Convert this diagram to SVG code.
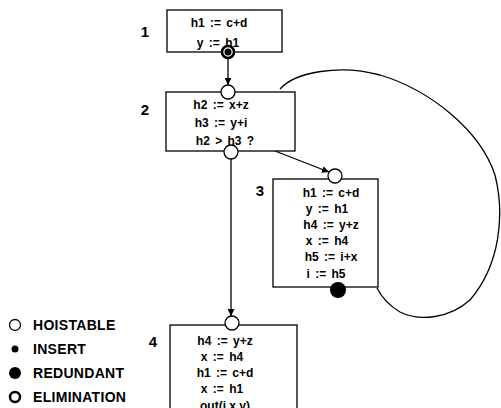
<svg xmlns="http://www.w3.org/2000/svg" width="501" height="408" viewBox="0 0 501 408">
<defs>
<marker id="arr" viewBox="0 0 10 10" refX="10" refY="5" markerWidth="7" markerHeight="7" orient="auto" markerUnits="userSpaceOnUse">
<path d="M0,0 L10,5 L0,10 z" fill="#000"/>
</marker>
<style>
.box{fill:#fff;stroke:#000;stroke-width:1.3}
.t{font-family:"Liberation Sans",Arial,sans-serif;font-size:12px;font-weight:bold;fill:#000;text-anchor:middle;word-spacing:2px}
.lbl{font-family:"Liberation Sans",Arial,sans-serif;font-size:15px;font-weight:bold;fill:#000;text-anchor:middle}
.lg{font-family:"Liberation Sans",Arial,sans-serif;font-size:14px;font-weight:bold;fill:#000;letter-spacing:0.3px}
.edge{fill:none;stroke:#000;stroke-width:1.3}
.hoist{fill:#fff;stroke:#000;stroke-width:1.3}
.red{fill:#000}
.elim{fill:#fff;stroke:#000;stroke-width:2.5}
</style>
</defs>
<rect width="501" height="408" fill="#fff"/>

<g id="connectors">
<line class="edge" x1="228" y1="59" x2="228" y2="85" marker-end="url(#arr)"/>
<line class="edge" x1="275" y1="151" x2="329" y2="172" marker-end="url(#arr)"/>
<line class="edge" x1="231" y1="159" x2="231" y2="316" marker-end="url(#arr)"/>
<path class="edge" d="M280,89 C295,72 340,64 380,75 C430,90 480,130 495,175 C505,215 500,265 470,300 C450,318 420,322 400,312 C390,306 382,298 377,288"/>
</g>

<g id="node1">
<rect class="box" x="167" y="10" width="115" height="42"/>
<text class="lbl" x="145" y="37">1</text>
<text class="t" x="219" y="27">h1 := c+d</text>
<text class="t" x="218" y="47">y := h1</text>
<circle class="elim" cx="228" cy="52" r="6"/>
<circle class="red" cx="228" cy="52" r="3.5"/>
</g>

<g id="node2">
<rect class="box" x="166" y="92" width="129" height="59"/>
<text class="lbl" x="145" y="115">2</text>
<text class="t" x="221" y="109">h2 := x+z</text>
<text class="t" x="221" y="127">h3 := y+i</text>
<text class="t" x="225" y="145">h2 &gt; h3 ?</text>
<circle class="hoist" cx="228" cy="92" r="7"/>
<circle class="hoist" cx="231" cy="152" r="7"/>
</g>

<g id="node3">
<rect class="box" x="273" y="179" width="105" height="108"/>
<text class="lbl" x="260" y="196">3</text>
<text class="t" x="331" y="197">h1 := c+d</text>
<text class="t" x="327" y="213">y := h1</text>
<text class="t" x="331" y="229">h4 := y+z</text>
<text class="t" x="327" y="245">x := h4</text>
<text class="t" x="331" y="261">h5 := i+x</text>
<text class="t" x="326" y="278">i := h5</text>
<circle class="hoist" cx="335" cy="176" r="7"/>
<circle class="red" cx="338" cy="290" r="8"/>
</g>

<g id="node4">
<rect class="box" x="170" y="325" width="127" height="100"/>
<text class="lbl" x="153" y="347">4</text>
<text class="t" x="225" y="345">h4 := y+z</text>
<text class="t" x="222" y="361">x := h4</text>
<text class="t" x="225" y="377">h1 := c+d</text>
<text class="t" x="222" y="393">x := h1</text>
<text class="t" x="225" y="410">out(i,x,y)</text>
<circle class="hoist" cx="232" cy="323" r="7"/>
</g>

<g id="legend">
<circle class="hoist" cx="15" cy="325" r="5.5"/>
<text class="lg" x="33" y="330">HOISTABLE</text>
<circle class="red" cx="15" cy="349" r="3.5"/>
<text class="lg" x="33" y="354">INSERT</text>
<circle class="red" cx="15" cy="373" r="6"/>
<text class="lg" x="33" y="378">REDUNDANT</text>
<circle class="elim" cx="15" cy="397" r="5"/>
<text class="lg" x="33" y="402">ELIMINATION</text>
</g>
</svg>
